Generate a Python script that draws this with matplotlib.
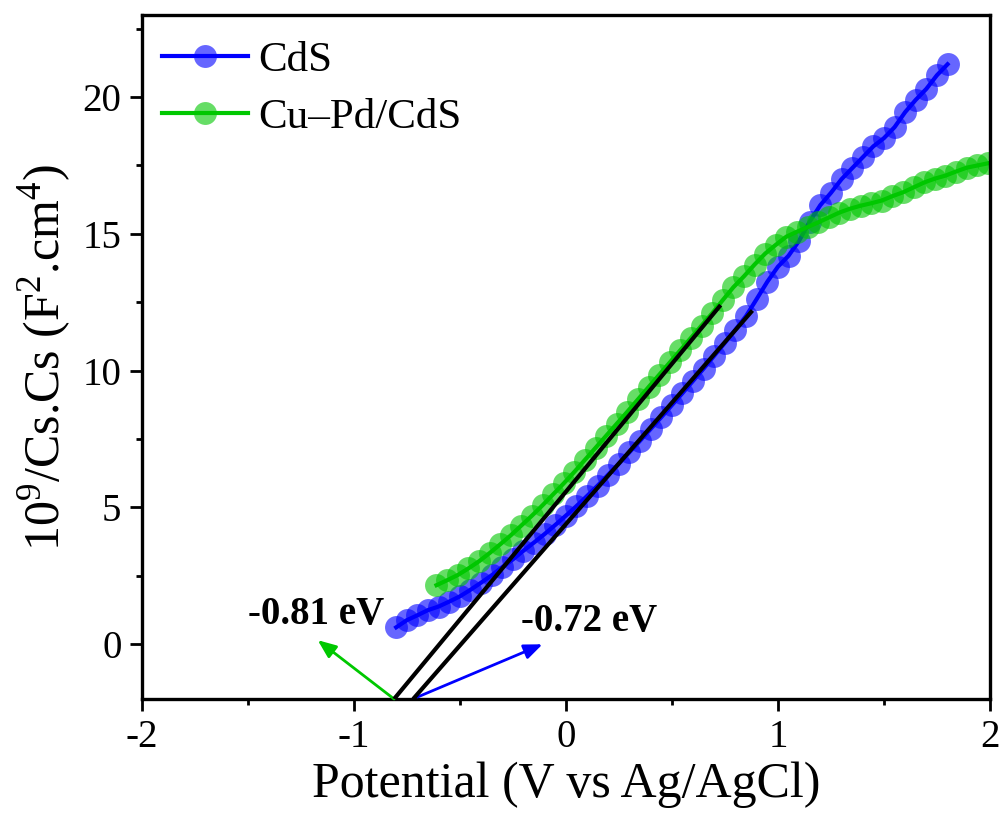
import matplotlib
matplotlib.use("Agg")
import matplotlib.pyplot as plt
from matplotlib.ticker import MultipleLocator

plt.rcParams['font.family'] = ['Liberation Serif', 'DejaVu Serif']
plt.rcParams['mathtext.fontset'] = 'custom'
plt.rcParams['mathtext.rm'] = 'Liberation Serif'
plt.rcParams['mathtext.bf'] = 'Liberation Serif:bold'
plt.rcParams['axes.unicode_minus'] = False

# ---- Mott-Schottky data ----
cds_v = [-0.80, -0.75, -0.70, -0.65, -0.60, -0.55, -0.50, -0.45, -0.40, -0.35,
         -0.30, -0.25, -0.20, -0.15, -0.10, -0.05, 0.00, 0.05, 0.10, 0.15,
         0.20, 0.25, 0.30, 0.35, 0.40, 0.45, 0.50, 0.55, 0.60, 0.65,
         0.70, 0.75, 0.80, 0.85, 0.90, 0.95, 1.00, 1.05, 1.10, 1.15,
         1.20, 1.25, 1.30, 1.35, 1.40, 1.45, 1.50, 1.55, 1.60, 1.65,
         1.70, 1.75, 1.80]
cds_c = [0.62, 0.88, 1.06, 1.25, 1.38, 1.56, 1.75, 1.99, 2.25, 2.52,
         2.82, 3.10, 3.42, 3.72, 4.03, 4.36, 4.70, 5.05, 5.42, 5.80,
         6.20, 6.60, 7.02, 7.44, 7.87, 8.30, 8.74, 9.18, 9.63, 10.08,
         10.55, 11.02, 11.50, 12.00, 12.62, 13.25, 13.80, 14.20, 14.75, 15.45,
         16.05, 16.50, 17.00, 17.40, 17.80, 18.20, 18.50, 18.90, 19.45, 19.90,
         20.30, 20.80, 21.20]

cupd_v = [-0.61, -0.56, -0.51, -0.46, -0.41, -0.36, -0.31, -0.26, -0.21, -0.16,
          -0.11, -0.06, -0.01, 0.04, 0.09, 0.14, 0.19, 0.24, 0.29, 0.34,
          0.39, 0.44, 0.49, 0.54, 0.59, 0.64, 0.69, 0.74, 0.79, 0.84,
          0.89, 0.94, 0.99, 1.04, 1.09, 1.14, 1.19, 1.24, 1.29, 1.34,
          1.39, 1.44, 1.49, 1.54, 1.59, 1.64, 1.69, 1.74, 1.79, 1.84,
          1.89, 1.94, 1.99]
cupd_c = [2.16, 2.34, 2.53, 2.77, 3.03, 3.33, 3.65, 3.98, 4.34, 4.70,
          5.08, 5.48, 5.88, 6.30, 6.74, 7.18, 7.62, 8.06, 8.50, 8.95,
          9.40, 9.85, 10.30, 10.75, 11.20, 11.65, 12.10, 12.58, 13.05, 13.45,
          13.88, 14.28, 14.60, 14.90, 15.08, 15.25, 15.42, 15.60, 15.78, 15.92,
          16.03, 16.12, 16.22, 16.38, 16.52, 16.70, 16.88, 17.02, 17.13, 17.28,
          17.42, 17.50, 17.58]

# linear fits: lower end at the axis floor, upper end on the data
fit_x0 = [-0.72, -0.81]
fit_x1 = [0.88, 0.73]
fit_y1 = [12.2, 12.4]
fit_labels = ['-0.72 eV', '-0.81 eV']
fit_colors = ['#0000FF', '#00C800']

ymin, ymax = -2, 23

fig = plt.figure(figsize=(10.03, 8.21), dpi=100)
ax = fig.add_axes([0.1413, 0.1486, 0.8457, 0.8331])

ax.plot(cds_v, cds_c, '-o', color='#0000FF', lw=3, ms=16.5,
        mfc=(0, 0, 1, 0.6), mec='none', label='CdS')
ax.plot(cupd_v, cupd_c, '-o', color='#00C800', lw=3, ms=16.5,
        mfc=(0, 0.78, 0, 0.6), mec='none', label='Cu\u2013Pd/CdS')

for x0, x1, y1 in zip(fit_x0, fit_x1, fit_y1):
    ax.plot([x0, x1], [ymin, y1], color='black', lw=3, solid_capstyle='butt', zorder=5)

# arrows pointing from the intercepts to the values
arrow_style = '-|>,head_length=1.1,head_width=0.45'
ax.annotate('', xy=(-0.11, 0.0), xytext=(fit_x0[0] + 0.02, ymin + 0.07),
            arrowprops=dict(arrowstyle=arrow_style,
                            color=fit_colors[0], lw=2, shrinkA=0, shrinkB=0))
ax.annotate('', xy=(-1.17, 0.15), xytext=(fit_x0[1], ymin),
            arrowprops=dict(arrowstyle=arrow_style,
                            color=fit_colors[1], lw=2, shrinkA=0, shrinkB=0))
ax.text(-0.21, 0.85, fit_labels[0], fontsize=28, fontweight='bold', va='center', ha='left')
ax.text(-1.50, 1.10, fit_labels[1], fontsize=28, fontweight='bold', va='center', ha='left')

ax.set_xlim(-2, 2)
ax.set_ylim(ymin, ymax)
ax.xaxis.set_major_locator(MultipleLocator(1))
ax.xaxis.set_minor_locator(MultipleLocator(0.5))
ax.yaxis.set_major_locator(MultipleLocator(5))
ax.yaxis.set_minor_locator(MultipleLocator(2.5))
ax.tick_params(which='major', direction='out', length=8.6, width=2, labelsize=28, pad=6)
ax.tick_params(which='minor', direction='out', length=4.3, width=2)
for s in ax.spines.values():
    s.set_linewidth(2.4)

ax.set_xlabel('Potential (V vs Ag/AgCl)', fontsize=36, labelpad=4)
ax.set_ylabel(r'10$^{9}$/Cs.Cs (F$^{2}$.cm$^{4}$)', fontsize=36, labelpad=6)

ax.legend(loc='upper left', fontsize=31, frameon=False, handlelength=2.0,
          handletextpad=0.25, labelspacing=0.42, borderaxespad=0.4,
          borderpad=0.3, bbox_to_anchor=(-0.012, 1.006))

fig.savefig('out.png', dpi=100)
